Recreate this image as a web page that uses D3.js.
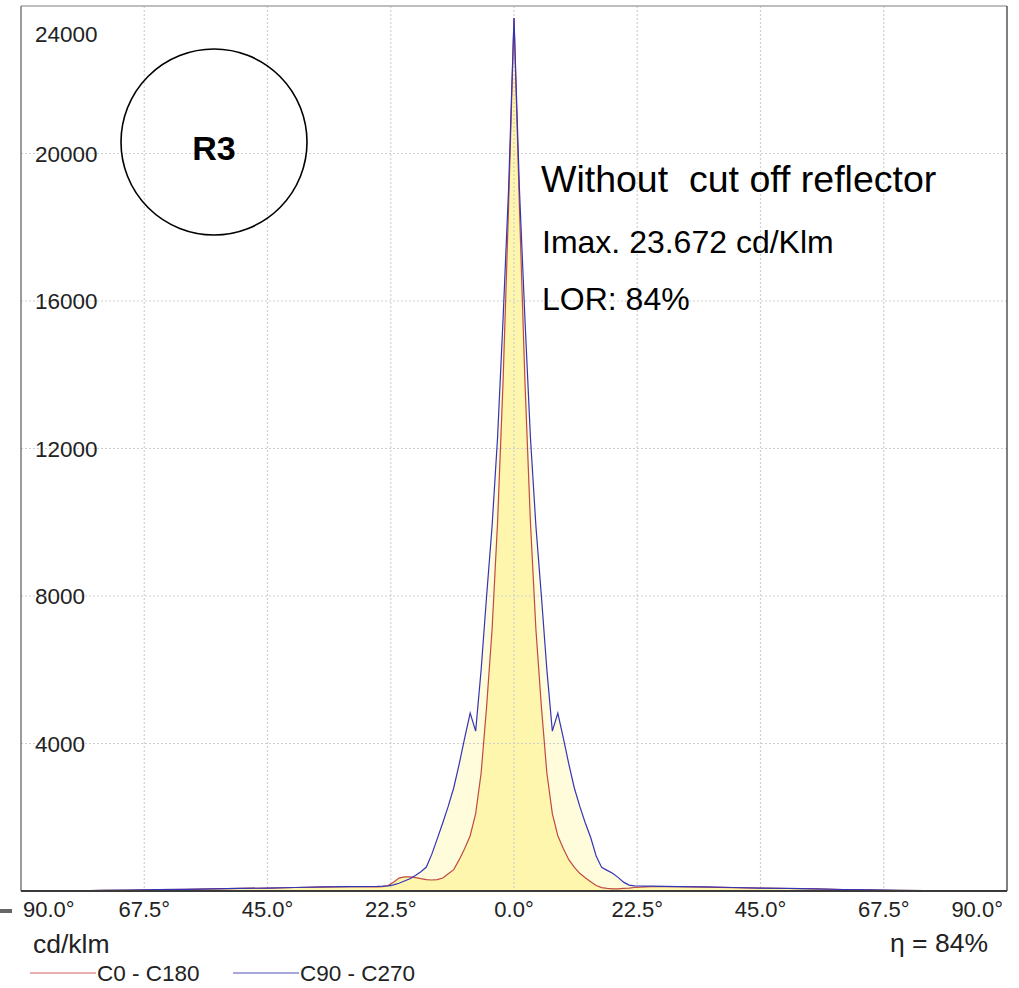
<!DOCTYPE html>
<html>
<head>
<meta charset="utf-8">
<script src="https://cdn.jsdelivr.net/npm/d3@7/dist/d3.min.js"></script>
<style>
  html, body { margin: 0; padding: 0; background: #fff; }
  svg { display: block; font-family: "Liberation Sans", Arial, sans-serif; }
  .pre { white-space: pre; }
</style>
</head>
<body>
<svg id="chart" width="1019" height="988"></svg>
<script>
// Gamma angles (degrees, negative = left half of the plane pair)
const angles = [
  -90, -85, -80, -75, -70, -65, -60, -55, -50, -45, -40, -35, -30,
  -25, -24, -23, -22, -21, -20, -19, -18, -17, -16, -15, -14, -13, -12, -11,
  -10, -9, -8, -7, -6, -5, -4, -3, -2, -1,
  0,
  1, 2, 3, 4, 5, 6, 7, 8, 9, 10,
  11, 12, 13, 14, 15, 16, 17, 18, 19, 20, 21, 22, 23, 24, 25,
  30, 35, 40, 45, 50, 55, 60, 65, 70, 75, 80, 85, 90
];

// Luminous intensity, C0 - C180 plane (cd/klm)
const c0c180 = [
  0, 0, 5, 15, 25, 35, 45, 60, 70, 80, 95, 105, 115,
  110, 120, 150, 240, 350, 385, 385, 365, 335, 310, 298, 310, 352, 470, 580,
  850, 1150, 1500, 2100, 3200, 5000, 7100, 10000, 13800, 18500,
  23672,
  18500, 13800, 10000, 7100, 5000, 3200, 2100, 1500, 1150, 850,
  650, 480, 360, 250, 150, 90, 70, 60, 60, 70, 80, 95, 105, 110, 115,
  115, 105, 92, 80, 68, 55, 40, 30, 20, 10, 3, 0, 0
];

// Luminous intensity, C90 - C270 plane (cd/klm)
const c90c270 = [
  0, 0, 5, 15, 25, 35, 45, 60, 70, 80, 95, 110, 120,
  125, 130, 140, 165, 210, 270, 330, 420, 520, 650, 1000, 1420, 1850, 2300, 2800,
  3450, 4150, 4824, 4336, 6000, 8000, 9900, 12300, 15500, 19000,
  23672,
  19000, 15500, 12300, 9900, 8000, 6000, 4336, 4824, 4150, 3450,
  2800, 2300, 1850, 1450, 950, 640, 560, 480, 370, 240, 160, 140, 135, 132, 130,
  120, 110, 95, 80, 70, 55, 40, 30, 20, 10, 3, 0, 0
];

const xTickValues = [-90, -67.5, -45, -22.5, 0, 22.5, 45, 67.5, 90];
const xTickLabels = ["90.0°", "67.5°", "45.0°", "22.5°", "0.0°", "22.5°", "45.0°", "67.5°", "90.0°"];
const yTickValues = [4000, 8000, 12000, 16000, 20000, 24000];
const yTickLabels = ["4000", "8000", "12000", "16000", "20000", "24000"];

const seriesNames = ["C0 - C180", "C90 - C270"];

const svg = d3.select("#chart");
const plot = { left: 21, right: 1007, top: 6, bottom: 891 };

const x = d3.scaleLinear().domain([-90, 90]).range([plot.left, plot.right]);
const y = d3.scaleLinear().domain([0, 24000]).range([plot.bottom, plot.top]);

const rows = angles.map((a, i) => ({ a, red: c0c180[i], blue: c90c270[i] }));

// Filled areas: C90-C270 (pale) underneath, C0-C180 (stronger yellow) on top
const areaOf = key => d3.area().x(d => x(d.a)).y0(y(0)).y1(d => y(d[key]));
svg.append("path").datum(rows).attr("d", areaOf("blue")).attr("fill", "#fffcdc");
svg.append("path").datum(rows).attr("d", areaOf("red")).attr("fill", "#fdf6ac");

// Dotted grid
const grid = svg.append("g").attr("stroke", "#cfcfcf").attr("stroke-width", 1.2).attr("stroke-dasharray", "2,2");
grid.selectAll("line.v").data(xTickValues.filter(v => Math.abs(v) < 90)).join("line")
  .attr("class", "v")
  .attr("x1", d => x(d)).attr("x2", d => x(d))
  .attr("y1", plot.top).attr("y2", plot.bottom);
grid.selectAll("line.h").data(yTickValues.filter(v => v < 24000)).join("line")
  .attr("class", "h")
  .attr("x1", plot.left).attr("x2", plot.right)
  .attr("y1", d => y(d)).attr("y2", d => y(d));

// Curves
const lineOf = key => d3.line().x(d => x(d.a)).y(d => y(d[key]));
svg.append("path").datum(rows).attr("d", lineOf("red"))
  .attr("fill", "none").attr("stroke", "#c04a44").attr("stroke-width", 1.2);
svg.append("path").datum(rows).attr("d", lineOf("blue"))
  .attr("fill", "none").attr("stroke", "#3434b8").attr("stroke-width", 1.2);

// Frame
svg.append("line").attr("x1", plot.left).attr("x2", plot.right).attr("y1", plot.top).attr("y2", plot.top)
  .attr("stroke", "#a8a8a8").attr("stroke-width", 1.5);
svg.append("line").attr("x1", plot.left).attr("x2", plot.left).attr("y1", plot.top).attr("y2", plot.bottom)
  .attr("stroke", "#7a7a7a").attr("stroke-width", 1.5);
svg.append("line").attr("x1", plot.right).attr("x2", plot.right).attr("y1", plot.top).attr("y2", plot.bottom)
  .attr("stroke", "#555").attr("stroke-width", 1.5);
svg.append("line").attr("x1", plot.left).attr("x2", plot.right).attr("y1", plot.bottom).attr("y2", plot.bottom)
  .attr("stroke", "#3a3a3a").attr("stroke-width", 1.8);

// Y tick labels (inside the plot, the top one nudged down to stay in the frame)
svg.append("g").selectAll("text").data(yTickValues).join("text")
  .attr("x", plot.left + 14)
  .attr("y", d => Math.max(y(d), plot.top + 28))
  .attr("dy", "0.36em")
  .attr("font-size", 22.5)
  .attr("fill", "#222")
  .text((d, i) => yTickLabels[i]);

// X tick labels (end labels kept inside the frame)
svg.append("g").selectAll("text").data(xTickValues).join("text")
  .attr("x", d => d === -90 ? x(d) + 2 : d === 90 ? x(d) - 4 : x(d))
  .attr("y", 917)
  .attr("text-anchor", d => d === -90 ? "start" : d === 90 ? "end" : "middle")
  .attr("font-size", 22)
  .attr("fill", "#222")
  .text((d, i) => xTickLabels[i]);

// Small marker left of the axis labels
svg.append("line").attr("x1", 0).attr("x2", 12).attr("y1", 911).attr("y2", 911)
  .attr("stroke", "#666").attr("stroke-width", 4);

// Units and efficiency
svg.append("text").attr("x", 33).attr("y", 953).attr("font-size", 26.5).attr("fill", "#222").text("cd/klm");
svg.append("text").attr("x", 988).attr("y", 952).attr("text-anchor", "end")
  .attr("font-size", 26.5).attr("fill", "#222").text("η = 84%");

// Legend
const legendColors = ["#d06060", "#5050b8"];
const legendX = [30, 233];
const lg = svg.append("g");
seriesNames.forEach((name, i) => {
  lg.append("line").attr("x1", legendX[i]).attr("x2", legendX[i] + 66)
    .attr("y1", 973).attr("y2", 973).attr("stroke", legendColors[i]).attr("stroke-width", 1.2);
  lg.append("text").attr("x", legendX[i] + 67).attr("y", 981)
    .attr("font-size", 22.5).attr("fill", "#222").text(name);
});

// Reflector badge
svg.append("circle").attr("cx", 214).attr("cy", 142).attr("r", 93)
  .attr("fill", "none").attr("stroke", "#000").attr("stroke-width", 1.6);
svg.append("text").attr("x", 214).attr("y", 160).attr("text-anchor", "middle")
  .attr("font-size", 34).attr("font-weight", "bold").text("R3");

// Annotations
svg.append("text").attr("class", "pre").attr("x", 541).attr("y", 192)
  .attr("font-size", 37.5).text("Without  cut off reflector");
svg.append("text").attr("x", 542).attr("y", 253)
  .attr("font-size", 32).text("Imax. 23.672 cd/Klm");
svg.append("text").attr("x", 542).attr("y", 310)
  .attr("font-size", 32).text("LOR: 84%");
</script>
</body>
</html>
